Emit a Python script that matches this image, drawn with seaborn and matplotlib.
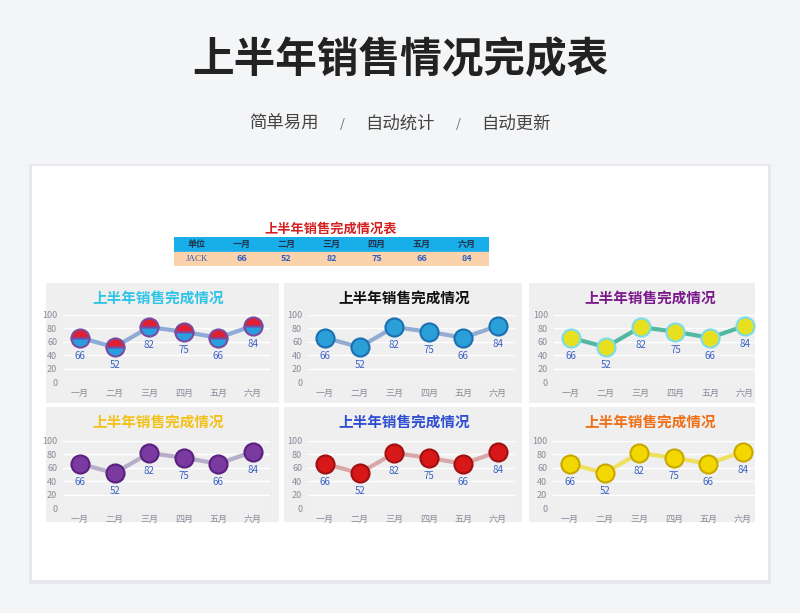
import pandas as pd
import matplotlib.pyplot as plt
import seaborn as sns
from matplotlib.patches import Rectangle

months = ["一月", "二月", "三月", "四月", "五月", "六月"]
sales = [66, 52, 82, 75, 66, 84]
unit = "JACK"
main_title = "上半年销售情况完成表"
subtitle_parts = ["简单易用", "/", "自动统计", "/", "自动更新"]
table_title = "上半年销售完成情况表"
table_header = ["单位"] + months
panel_title = "上半年销售完成情况"
yticks = [0, 20, 40, 60, 80, 100]

df = pd.DataFrame({"月份": months, "销售": sales})

sns.set_style("white")
plt.rcParams["font.family"] = ["Noto Sans CJK SC", "DejaVu Sans"]

W, H = 800, 613


def box(x0, y0, x1, y1):
    # pixel box (top-left origin) -> figure fraction
    return [x0 / W, 1 - y1 / H, (x1 - x0) / W, (y1 - y0) / H]


def rect(x0, y0, x1, y1, color, z=0, alpha=1):
    b = box(x0, y0, x1, y1)
    fig.add_artist(Rectangle((b[0], b[1]), b[2], b[3], transform=fig.transFigure,
                             facecolor=color, edgecolor="none", zorder=z, alpha=alpha))


fig = plt.figure(figsize=(8, 6.13), dpi=100)
fig.patch.set_facecolor("#f4f5f7")

fig.text(0.5, 1 - 60 / H, main_title, ha="center", va="center",
         fontsize=30, fontweight="bold", color="#222222")
for xc, s in zip([284, 342, 400, 458, 516], subtitle_parts):
    fig.text(xc / W, 1 - 124 / H, s, ha="center", va="center",
             fontsize=12.5 if s != "/" else 9, color="#444444" if s != "/" else "#666666")

# card with a soft shadow
rect(29, 164, 771, 584, "#e6e8ec", z=-2)
rect(32, 166, 768, 580, "white", z=-1.9)

# small table
fig.text(331 / W, 1 - 229 / H, table_title, ha="center", va="center",
         fontsize=9.5, fontweight="bold", color="#d42020")
tax = fig.add_axes(box(174, 237, 489, 266))
tax.set_zorder(2)
tax.set_xlim(0, 7)
tax.set_ylim(0, 2)
tax.axis("off")
tax.axhspan(1, 2, color="#18aeea")
tax.axhspan(0, 1, color="#fad3ad")
for i, h in enumerate(table_header):
    tax.text(i + 0.5, 1.5, h, ha="center", va="center", fontsize=6.5,
             fontweight="bold", color="#1f3550")
tax.text(0.5, 0.5, unit, ha="center", va="center", fontsize=6.5,
         color="#3a5aa8", family="Liberation Serif")
for i, v in enumerate(sales):
    tax.text(i + 1.5, 0.5, str(v), ha="center", va="center", fontsize=6.5,
             fontweight="bold", color="#2f5fc0")

# panels: (bg box, title centre x, first point x, last point x, y of 100, y of 0, style)
panels = [
    ((46, 283, 279, 403), 158, 80, 253, 315, 382,
     dict(title="#2ec4e6", line="#8eaad6", face="#e02030", alt="#2a9fe0", edge="#7a4aa0", fill="top")),
    ((284, 283, 522, 403), 404, 325, 498, 315, 382,
     dict(title="#111111", line="#93acd4", face="#2a9fd8", alt="#2a9fd8", edge="#1a6fb0", fill="full")),
    ((529, 283, 755, 403), 650, 571, 745, 315, 382,
     dict(title="#7a1a8a", line="#52b8a2", face="#e6e020", alt="#e6e020", edge="#7adcea", fill="full")),
    ((46, 407, 279, 522), 158, 80, 253, 441, 508,
     dict(title="#f2c21a", line="#b6aec8", face="#7a3aa0", alt="#7a3aa0", edge="#5a2080", fill="full")),
    ((284, 407, 522, 522), 404, 325, 498, 441, 508,
     dict(title="#2f4fd0", line="#d8a8a8", face="#d81818", alt="#d81818", edge="#a01010", fill="full")),
    ((529, 407, 755, 522), 650, 570, 743, 441, 508,
     dict(title="#f07018", line="#f0e060", face="#f2d800", alt="#f2d800", edge="#c8a800", fill="full")),
]

for (bx0, by0, bx1, by1), tx, p0, p5, ytop, ybot, st in panels:
    rect(bx0, by0, bx1, by1, "#efefef", z=-1.5)
    fig.text(tx / W, 1 - (by0 + 15) / H, panel_title,
             ha="center", va="center", fontsize=10.5, fontweight="bold", color=st["title"])
    d = (p5 - p0) / 5
    ax = fig.add_axes(box(p0 - d / 2, ytop, p5 + d / 2, ybot))
    ax.set_zorder(2)
    ax.patch.set_alpha(0)
    sns.lineplot(data=df, x="月份", y="销售", ax=ax, color=st["line"], linewidth=3,
                 marker="o", markersize=13, markerfacecolor=st["face"],
                 markerfacecoloralt=st["alt"], fillstyle=st["fill"],
                 markeredgecolor=st["edge"], markeredgewidth=1.5, clip_on=False, zorder=3)
    for i, v in enumerate(sales):
        ax.annotate(str(v), (i, v), xytext=(0, -13), textcoords="offset points",
                    ha="center", va="center", fontsize=7, color="#3a62c4", zorder=4)
    ax.set_xlim(-0.5, 5.5)
    ax.set_ylim(0, 100)
    ax.set_yticks(yticks)
    ax.yaxis.grid(True, color="white", linewidth=1)
    ax.set_axisbelow(True)
    sns.despine(ax=ax, left=True, bottom=True)
    ax.set_xlabel("")
    ax.set_ylabel("")
    ax.tick_params(axis="both", length=0, labelsize=6.5, labelcolor="#8a8a9a")
    ax.tick_params(axis="x", pad=5)
    ax.tick_params(axis="y", pad=4)
    ax.set_xticks(range(len(months)))
    ax.set_xticklabels(months)

fig.savefig("out.png", dpi=100, facecolor=fig.get_facecolor())
